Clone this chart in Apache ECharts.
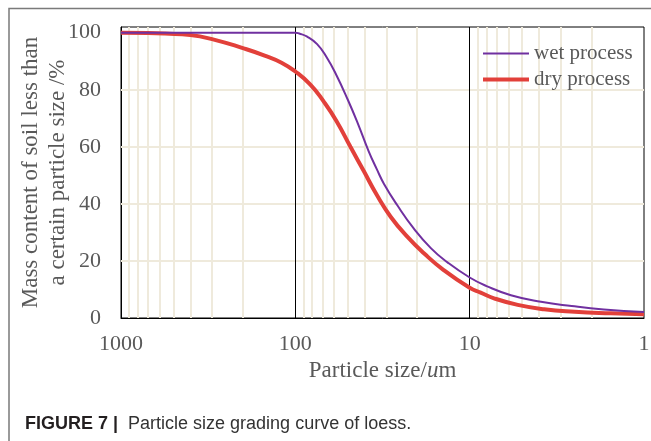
<!DOCTYPE html>
<html>
<head>
<meta charset="utf-8">
<script src="https://cdn.jsdelivr.net/npm/echarts@6/dist/echarts.min.js"></script>
<style>
html,body{margin:0;padding:0;background:#fff;}
#chart{width:651px;height:441px;}
</style>
</head>
<body>
<div id="chart"></div>
<script>
// ---- data ----
const wetSize = [1000, 500, 200, 100, 95, 86, 75, 66, 58, 50, 44, 38, 34, 31, 26, 21, 16.7, 13.4, 10, 8, 5.8, 3.9, 2.6, 1.7, 1];
const wetPct  = [100, 100, 100, 100, 99.7, 98.7, 96, 91.3, 85, 76.5, 68.5, 58.5, 52, 47, 39.5, 31.5, 24.5, 19.5, 14.2, 11.2, 8, 5.7, 4.2, 3.0, 2.1];
const drySize = [1000, 700, 560, 400, 290, 200, 150, 120, 100, 82, 69, 58, 48.3, 40.5, 34, 28.4, 22.8, 18.3, 14.1, 10, 8.65, 7.25, 5.3, 3.74, 2.5, 1.55, 1];
const dryPct  = [100, 99.9, 99.7, 99.2, 97.5, 94.6, 92, 89.5, 86.4, 81.8, 76, 69, 60, 51.5, 43, 35.5, 28.5, 22.7, 16.8, 10.6, 8.9, 6.9, 4.6, 3.05, 2.2, 1.65, 1.3];
const xTicks = [1000, 100, 10, 1];
const yTicks = [0, 20, 40, 60, 80, 100];
const minorX = [900,800,700,600,500,400,300,200,90,80,70,60,50,40,30,20,9,8,7,6,5,4,3,2];
const majorX = [100, 10];
const gridY = [20, 40, 60, 80];
const seriesNames = ['wet process', 'dry process'];

const serif = '"Liberation Serif", "Times New Roman", serif';
const sans = '"Liberation Sans", Arial, sans-serif';
const textGray = '#595959';
const wetColor = '#7030a0';
const dryColor = '#e2403a';

const chart = echarts.init(document.getElementById('chart'), null, {renderer: 'canvas'});
const zip = (a, b) => a.map((v, i) => [v, b[i]]);

chart.setOption({
  animation: false,
  backgroundColor: '#fff',
  grid: {left: 121, right: 7, top: 27, bottom: 123, show: true, borderColor: '#000', borderWidth: 1,
         backgroundColor: 'transparent', outerBoundsMode: 'none', containLabel: false},
  legend: {
    data: [
      {name: seriesNames[0], icon: 'path://M0,0L46,0L46,2L0,2Z', itemStyle: {color: wetColor}},
      {name: seriesNames[1], icon: 'path://M0,0L46,0L46,4L0,4Z', itemStyle: {color: dryColor}}
    ],
    orient: 'vertical',
    left: 483, top: 43, padding: 0,
    itemWidth: 46, itemHeight: 14, itemGap: 5,
    textStyle: {fontFamily: serif, fontSize: 21, color: textGray, lineHeight: 21}
  },
  xAxis: {
    type: 'log', logBase: 10, min: 1, max: 1000, inverse: true,
    axisLine: {show: true, lineStyle: {color: '#000', width: 1}},
    axisTick: {show: false},
    splitLine: {show: false},
    axisLabel: {fontFamily: serif, fontSize: 22, color: textGray, margin: 15,
      formatter: v => xTicks.includes(Math.round(v)) ? String(Math.round(v)) : ''},
    name: '{a|Particle size/}{b|u}{a|m}',
    nameLocation: 'middle', nameGap: 41, nameMoveOverlap: false,
    nameTextStyle: {rich: {
      a: {fontFamily: serif, fontSize: 23, color: textGray},
      b: {fontFamily: serif, fontSize: 23, color: textGray, fontStyle: 'italic'}
    }}
  },
  yAxis: {
    type: 'value', min: 0, max: 102, interval: 20,
    axisLine: {show: true, lineStyle: {color: '#000', width: 1}},
    axisTick: {show: false},
    splitLine: {show: false},
    axisLabel: {fontFamily: serif, fontSize: 22, color: textGray, margin: 20,
      formatter: v => yTicks.includes(v) ? String(v) : ''},
    name: 'Mass content of soil less than\na certain particle size /%',
    nameLocation: 'middle', nameGap: 50, nameMoveOverlap: false,
    nameTextStyle: {fontFamily: serif, fontSize: 23, color: textGray, lineHeight: 27, align: 'center'}
  },
  graphic: [
    {type: 'polyline', shape: {points: [[9, 441], [9, 8.5], [651, 8.5]]}, style: {stroke: '#7a7a7a', lineWidth: 1.5, fill: null}, silent: true},
    {type: 'text', left: 25, top: 415, style: {
      text: '{b|FIGURE 7 |}{r|  Particle size grading curve of loess.}',
      rich: {
        b: {fontFamily: sans, fontSize: 18, fontWeight: 'bold', fill: '#231f20'},
        r: {fontFamily: sans, fontSize: 18, fill: '#333'}
      }
    }}
  ],
  series: [
    {
      name: 'minor-grid', type: 'line', data: [], z: 1, silent: true,
      markLine: {
        z: 1, silent: true, symbol: 'none', animation: false, label: {show: false},
        lineStyle: {color: '#efeadc', width: 2, type: 'solid'},
        data: minorX.map(v => ({xAxis: v})).concat(gridY.map(v => ({yAxis: v})))
      }
    },
    {
      name: 'major-grid', type: 'line', data: [], z: 2, silent: true,
      markLine: {
        z: 2, silent: true, symbol: 'none', animation: false, label: {show: false},
        lineStyle: {color: '#000', width: 1, type: 'solid'},
        data: majorX.map(v => ({xAxis: v}))
      }
    },
    {
      name: seriesNames[0], type: 'line', data: zip(wetSize, wetPct), z: 4,
      showSymbol: false, symbol: 'none', smooth: 0.5,
      lineStyle: {color: wetColor, width: 2}, itemStyle: {color: wetColor}
    },
    {
      name: seriesNames[1], type: 'line', data: zip(drySize, dryPct), z: 3,
      showSymbol: false, symbol: 'none', smooth: 0.5,
      lineStyle: {color: dryColor, width: 4}, itemStyle: {color: dryColor}
    }
  ]
});
</script>
</body>
</html>
